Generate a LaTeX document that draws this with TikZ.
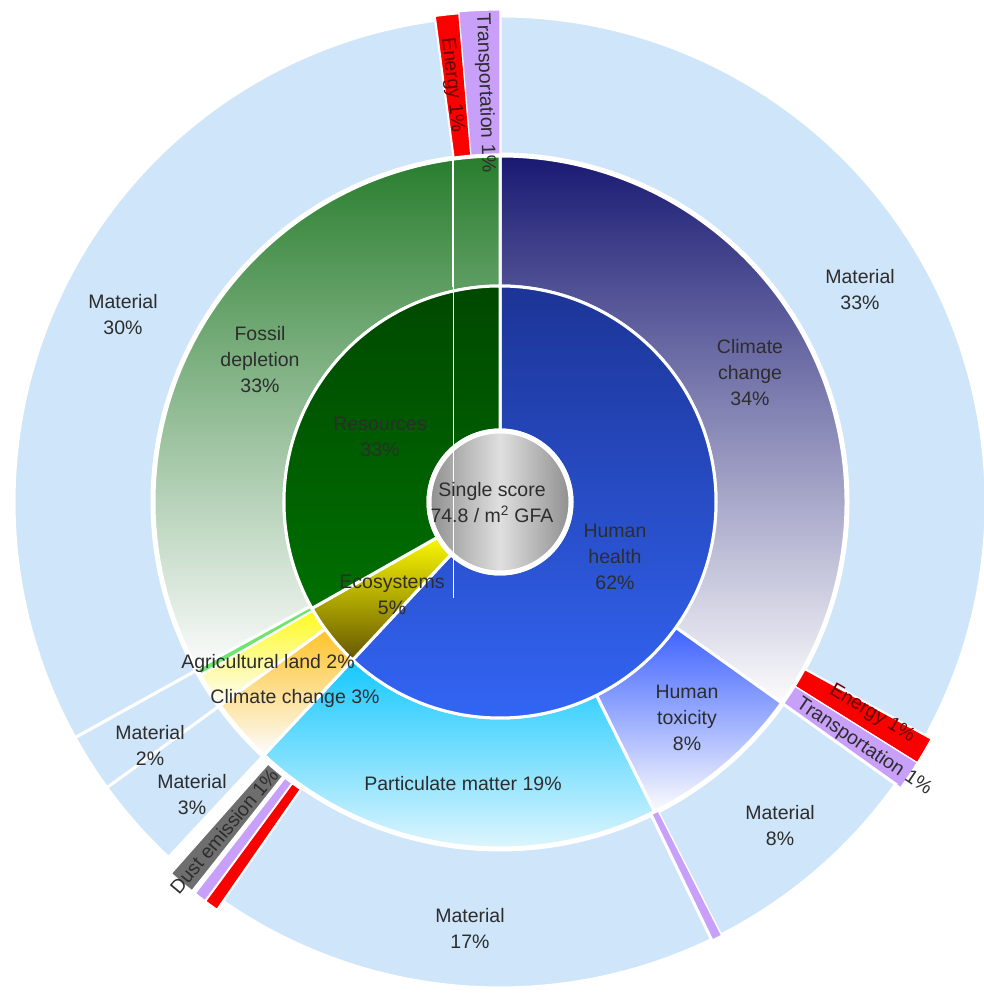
\documentclass[tikz,border=0pt]{standalone}
\usepackage{fontspec}
\setmainfont{Liberation Sans}
\usepackage{xcolor}
\usepackage{tikz}

\definecolor{matblue}{RGB}{206,229,250}
\definecolor{lblgray}{RGB}{45,45,45}
\definecolor{tabred}{RGB}{250,0,0}
\definecolor{tabpurple}{RGB}{200,160,250}
\definecolor{dustgray}{RGB}{110,110,110}
\definecolor{resgreen}{RGB}{0,112,0}
\definecolor{resdark}{RGB}{0,72,0}
\definecolor{hhtop}{RGB}{28,52,150}
\definecolor{hhbot}{RGB}{52,104,250}
\definecolor{ecotop}{RGB}{250,248,0}
\definecolor{ecobot}{RGB}{100,86,0}
\definecolor{fossiltop}{RGB}{40,125,45}
\definecolor{cctop}{RGB}{25,25,115}
\definecolor{htoxtop}{RGB}{62,98,255}
\definecolor{pmtop}{RGB}{20,200,255}
\definecolor{cc3top}{RGB}{255,195,40}
\definecolor{agritop}{RGB}{255,250,30}
\definecolor{agrigreen}{RGB}{110,230,110}
\definecolor{fade}{RGB}{252,252,253}

\newcommand{\lblfont}{\fontsize{19.5}{26}\selectfont}
% annular sector: options, start angle, end angle, inner radius, outer radius
\newcommand{\ringslice}[5]{\path[#1] (#2:#4) arc[start angle=#2, end angle=#3, radius=#4] -- (#3:#5) arc[start angle=#3, end angle=#2, radius=#5] -- cycle;}

\begin{document}
\begin{tikzpicture}[x=1pt, y=1pt]
    \tikzstyle{seg} = [draw=white, line width=3]
    \tikzstyle{matl} = [seg, fill=matblue]
    \tikzstyle{tab} = [draw=white, line width=1.2]
    \tikzstyle{lbl} = [text=lblgray, align=center, font=\lblfont, inner sep=1]

    \useasboundingbox (0,0) rectangle (983,993);

    \begin{scope}[shift={(500,491)}]
    % outer ring
    \ringslice{matl}{90}{-28.8}{348}{486}
    \ringslice{tab, fill=tabred}{-28.8}{-32}{348}{492}
    \ringslice{tab, fill=tabpurple}{-32}{-35.5}{348}{492}
    \ringslice{matl}{-35.5}{-63}{348}{486}
    \ringslice{fill=tabpurple}{-63}{-64.2}{348}{486}
    \ringslice{matl}{-64.2}{-124.8}{348}{486}
    \ringslice{tab, fill=tabred}{-124.8}{-126.4}{350}{496}
    \ringslice{tab, fill=tabpurple}{-126.5}{-127.9}{350}{496}
    \ringslice{tab, fill=dustgray}{-128.4}{-131.5}{350}{496}
    \ringslice{matl}{-133}{-144}{348}{486}
    \ringslice{matl}{-144}{-151}{348}{486}
    \ringslice{matl}{-151}{-262.4}{348}{486}
    \ringslice{tab, fill=tabred}{-262.4}{-265.2}{348}{490}
    \ringslice{tab, fill=tabpurple}{-265.2}{-270}{348}{492}

    % middle ring
    \ringslice{seg, top color=cctop, bottom color=fade}{90}{-35.5}{216}{346}
    \ringslice{seg, top color=htoxtop, bottom color=fade}{-35.5}{-63.5}{216}{346}
    \ringslice{seg, top color=pmtop, bottom color=fade}{-63.5}{-133}{216}{346}
    \ringslice{seg, top color=cc3top, bottom color=fade}{-133}{-144}{216}{346}
    \ringslice{seg, top color=agritop, bottom color=fade}{-144}{-150}{216}{346}
    \ringslice{fill=agrigreen}{-150.2}{-151.2}{218}{344}
    \ringslice{seg, top color=fossiltop, bottom color=fade}{-151.2}{-270}{216}{346}

    % inner ring
    \ringslice{seg, top color=hhtop, bottom color=hhbot}{90}{-133}{72}{216}
    \ringslice{seg, top color=ecotop, bottom color=ecobot}{-133}{-150.5}{72}{216}
    \ringslice{seg, top color=resdark, bottom color=resgreen}{-150.5}{-270}{72}{216}

    % centre
    \shadedraw[left color=gray!88, right color=gray!88, middle color=gray!25, draw=white, line width=5] (0,0) circle (71);
    \end{scope}

    \draw[white, line width=2] (453,836) -- (453,706);
    \draw[white, line width=0.8] (453,706) -- (453,395);

    \node[lbl] (score) at (492,490) {Single score\\74.8 / m\textsuperscript{2} GFA};
    \node[lbl] (health) at (615,436) {Human\\health\\62\%};
    \node[lbl] (resources) at (380,556) {Resources\\33\%};
    \node[lbl] (ecosys) at (392,398) {Ecosystems\\5\%};

    \node[lbl] (climate) at (750,620) {Climate\\change\\34\%};
    \node[lbl] (toxicity) at (687,275) {Human\\toxicity\\8\%};
    \node[lbl] (particulate) at (463,209) {Particulate matter 19\%};
    \node[lbl] (climatesmall) at (295,295) {Climate change 3\%};
    \node[lbl] (agri) at (268,330) {Agricultural land 2\%};
    \node[lbl] (fossil) at (260,633) {Fossil\\depletion\\33\%};

    \node[lbl] (mat33) at (860,703) {Material\\33\%};
    \node[lbl] (mat8) at (780,167) {Material\\8\%};
    \node[lbl] (mat17) at (470,65) {Material\\17\%};
    \node[lbl] (mat3) at (192,198) {Material\\3\%};
    \node[lbl] (mat2) at (150,248) {Material\\2\%};
    \node[lbl] (mat30) at (123,678) {Material\\30\%};

    \node[lbl, rotate=-30.5, text=red!40!black] (energyright) at (872,279) {Energy 1\%};
    \node[lbl, rotate=-34] (transright) at (864,246) {Transportation 1\%};
    \node[lbl, rotate=50] (dust) at (224,162) {Dust emission 1\%};
    \node[lbl, rotate=-83.8, text=red!40!black] (energytop) at (452,908) {Energy 1\%};
    \node[lbl, rotate=-88] (transtop) at (485,900) {Transportation 1\%};
\end{tikzpicture}
\end{document}
